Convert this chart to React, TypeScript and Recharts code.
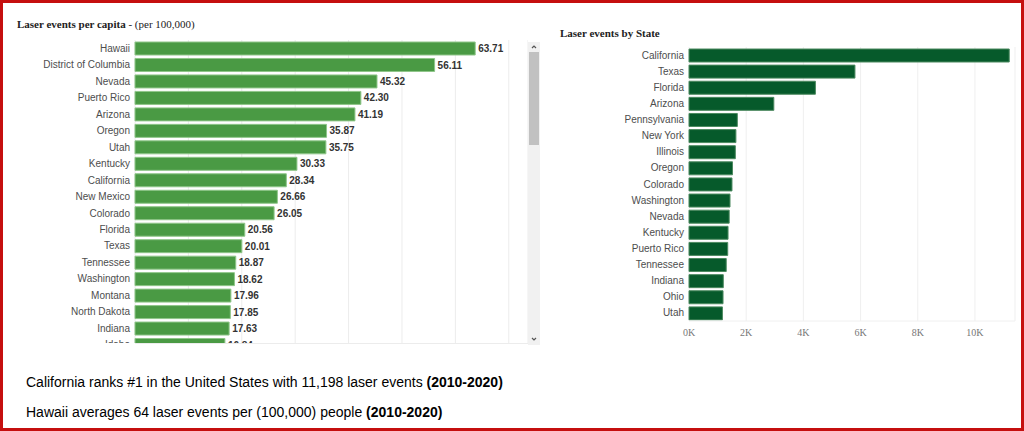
import { BarChart, Bar, XAxis, YAxis, CartesianGrid, LabelList } from 'recharts'

// per capita (per 100,000), visible rows of the scrolled list
const capitaStates = [
  'Hawaii', 'District of Columbia', 'Nevada', 'Puerto Rico', 'Arizona', 'Oregon', 'Utah',
  'Kentucky', 'California', 'New Mexico', 'Colorado', 'Florida', 'Texas', 'Tennessee',
  'Washington', 'Montana', 'North Dakota', 'Indiana', 'Idaho',
]
const capitaValues = [
  63.71, 56.11, 45.32, 42.3, 41.19, 35.87, 35.75, 30.33, 28.34, 26.66, 26.05, 20.56,
  20.01, 18.87, 18.62, 17.96, 17.85, 17.63, 16.84,
]
const capitaTicks = [0, 10, 20, 30, 40, 50, 60, 70]

// total laser events by state
const totalStates = [
  'California', 'Texas', 'Florida', 'Arizona', 'Pennsylvania', 'New York', 'Illinois',
  'Oregon', 'Colorado', 'Washington', 'Nevada', 'Kentucky', 'Puerto Rico', 'Tennessee',
  'Indiana', 'Ohio', 'Utah',
]
const totalValues = [
  11198, 5803, 4420, 2966, 1690, 1640, 1620, 1521, 1503, 1434, 1405, 1365, 1354, 1302,
  1199, 1190, 1169,
]
const totalTicks = [0, 2000, 4000, 6000, 8000, 10000]

const capitaData = capitaStates.map((state, i) => ({ state, value: capitaValues[i] }))
const totalData = totalStates.map((state, i) => ({ state, value: totalValues[i] }))

const sans = '"Liberation Sans", Arial, sans-serif'
const serif = '"Liberation Serif", "Times New Roman", serif'

function Scrollbar() {
  return (
    <div style={{ position: 'absolute', left: 528, top: 42, width: 12, height: 303, background: '#f1f1f1' }}>
      <svg width={12} height={303} style={{ position: 'absolute', left: 0, top: 0 }}>
        <polyline points="4,6 6,4 8,6" fill="none" stroke="#555" strokeWidth={1.2} />
        <rect x={1} y={10} width={10} height={93} fill="#c1c1c1" />
        <polyline points="4,296 6,298 8,296" fill="none" stroke="#555" strokeWidth={1.2} />
      </svg>
    </div>
  )
}

export default function App() {
  return (
    <div style={{ position: 'absolute', left: 0, top: 0, width: 1024, height: 431, background: '#fff', overflow: 'hidden' }}>
      <div style={{ position: 'absolute', left: 17, top: 18, fontFamily: serif, fontSize: 11, color: '#222', whiteSpace: 'nowrap' }}>
        <b>Laser events per capita</b> - (per 100,000)
      </div>

      <div style={{ position: 'absolute', left: 0, top: 40, width: 528, height: 303, overflow: 'hidden' }}>
        <BarChart
          width={528}
          height={313}
          data={capitaData}
          layout="vertical"
          margin={{ top: 0, right: 0, bottom: 0, left: 0 }}
        >
          <CartesianGrid horizontal={false} stroke="#ececec" />
          <XAxis type="number" hide domain={[0, 73.6]} ticks={capitaTicks} />
          <YAxis
            type="category"
            dataKey="state"
            width={135}
            interval={0}
            tickLine={false}
            axisLine={false}
            tickSize={3}
            tickMargin={2}
            tick={{ fill: '#4d4d4d', fontSize: 10, fontFamily: sans }}
          />
          <Bar dataKey="value" fill="#4a9a44" stroke="#8fc689" strokeWidth={1} barSize={13} isAnimationActive={false}>
            <LabelList
              dataKey="value"
              position="right"
              offset={3}
              formatter={(v: any) => Number(v).toFixed(2)}
              style={{ fill: '#333', fontSize: 10, fontWeight: 'bold', fontFamily: sans }}
            />
          </Bar>
        </BarChart>
      </div>
      <div style={{ position: 'absolute', left: 135, top: 343, width: 393, height: 1, background: '#ececec' }} />
      <Scrollbar />

      <div style={{ position: 'absolute', left: 560, top: 27, fontFamily: serif, fontSize: 11, fontWeight: 'bold', color: '#222', whiteSpace: 'nowrap' }}>
        Laser events by State
      </div>

      <div style={{ position: 'absolute', left: 560, top: 47 }}>
        <BarChart
          width={460}
          height={298}
          data={totalData}
          layout="vertical"
          margin={{ top: 0, right: 5, bottom: 0, left: 0 }}
        >
          <CartesianGrid horizontal={false} stroke="#efefef" />
          <XAxis
            type="number"
            domain={[0, 11400]}
            ticks={totalTicks}
            height={24}
            tickLine={false}
            axisLine={{ stroke: '#f0f0f0' }}
            tickMargin={2}
            tickFormatter={(v: number) => `${v / 1000}K`}
            tick={{ fill: '#777', fontSize: 10, fontFamily: serif }}
          />
          <YAxis
            type="category"
            dataKey="state"
            width={129}
            interval={0}
            tickLine={false}
            axisLine={false}
            tickSize={3}
            tickMargin={2}
            tick={{ fill: '#4d4d4d', fontSize: 10, fontFamily: sans }}
          />
          <Bar dataKey="value" fill="#065a2b" stroke="#4c8a60" strokeWidth={1} barSize={13} isAnimationActive={false} />
        </BarChart>
      </div>

      <div style={{ position: 'absolute', left: 26, top: 374, fontFamily: sans, fontSize: 14, color: '#000', whiteSpace: 'nowrap' }}>
        California ranks #1 in the United States with 11,198 laser events <b>(2010-2020)</b>
      </div>
      <div style={{ position: 'absolute', left: 26, top: 404, fontFamily: sans, fontSize: 14, color: '#000', whiteSpace: 'nowrap' }}>
        Hawaii averages 64 laser events per (100,000) people <b>(2010-2020)</b>
      </div>

      <div style={{ position: 'absolute', left: 0, top: 0, width: 1024, height: 431, boxSizing: 'border-box', border: '3px solid #c50f0f', pointerEvents: 'none' }} />
    </div>
  )
}
